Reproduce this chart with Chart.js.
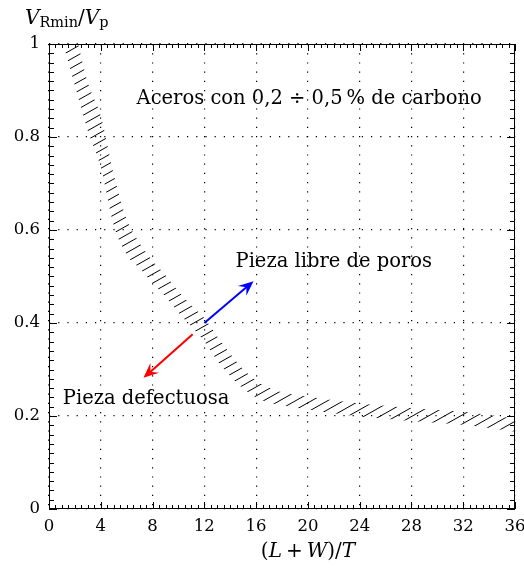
<!DOCTYPE html>
<html>
<head>
<meta charset="utf-8">
<script src="https://cdn.jsdelivr.net/npm/chart.js@4.4.0/dist/chart.umd.min.js"></script>
<style>
  html, body { margin: 0; padding: 0; background: #fff; }
</style>
</head>
<body>
<canvas id="chart" width="524" height="572"></canvas>
<script>
// ticks
var xTicks = [0, 4, 8, 12, 16, 20, 24, 28, 32, 36];
var yTicks = [0, 0.2, 0.4, 0.6, 0.8, 1];
var yTickLabels = ["0", "0.2", "0.4", "0.6", "0.8", "1"];

// hatched band (lower / upper edge)
var bandX     = [1.2, 2, 3, 4, 5, 6, 7, 8, 9, 10, 11, 12, 13, 14, 15, 16, 17, 18, 20, 22, 24, 26, 28, 30, 32, 34, 36];
var bandLower = [0.99, 0.91, 0.813, 0.735, 0.61, 0.547, 0.518, 0.486, 0.457, 0.422, 0.392, 0.36, 0.319, 0.286, 0.259, 0.24, 0.229, 0.223, 0.214, 0.206, 0.199, 0.194, 0.189, 0.185, 0.181, 0.174, 0.166];
var bandUpper = [1.12, 1.03, 0.917, 0.845, 0.72, 0.623, 0.572, 0.534, 0.503, 0.468, 0.438, 0.41, 0.371, 0.334, 0.301, 0.276, 0.261, 0.251, 0.242, 0.234, 0.227, 0.222, 0.217, 0.213, 0.209, 0.202, 0.194];

// arrows: [start, end]
var arrowLibre = [[12, 0.4], [15.8, 0.49]];
var arrowDefecto = [[11.1, 0.376], [7.3, 0.282]];

var notes = [
  { text: "Aceros con 0,2 \u00f7 0,5\u2009% de carbono", x: 20.1, y: 0.885 },
  { text: "Pieza libre de poros", x: 22.0, y: 0.535 },
  { text: "Pieza defectuosa", x: 7.5, y: 0.24 }
];

var FONT = "'DejaVu Serif', serif";

function hatch() {
  var c = document.createElement("canvas");
  c.width = 16; c.height = 9;
  var g = c.getContext("2d");
  g.strokeStyle = "#000";
  g.lineWidth = 1;
  g.beginPath();
  [-9, 0, 9].forEach(function (o) {
    g.moveTo(0, 9 + o);
    g.lineTo(16, o);
  });
  g.stroke();
  return g.createPattern(c, "repeat");
}

function pts(xs, ys) {
  return xs.map(function (x, i) { return { x: x, y: ys[i] }; });
}

function drawArrow(ctx, chart, a, color) {
  var sx = chart.scales.x, sy = chart.scales.y;
  var x0 = sx.getPixelForValue(a[0][0]), y0 = sy.getPixelForValue(a[0][1]);
  var x1 = sx.getPixelForValue(a[1][0]), y1 = sy.getPixelForValue(a[1][1]);
  var ang = Math.atan2(y1 - y0, x1 - x0);
  var len = 15, w = 6.5;
  ctx.save();
  ctx.strokeStyle = color;
  ctx.fillStyle = color;
  ctx.lineWidth = 2;
  ctx.beginPath();
  ctx.moveTo(x0, y0);
  ctx.lineTo(x1 - Math.cos(ang) * 9, y1 - Math.sin(ang) * 9);
  ctx.stroke();
  ctx.translate(x1, y1);
  ctx.rotate(ang);
  ctx.beginPath();
  ctx.moveTo(0, 0);
  ctx.lineTo(-len, -w);
  ctx.lineTo(-len * 0.62, 0);
  ctx.lineTo(-len, w);
  ctx.closePath();
  ctx.fill();
  ctx.restore();
}

function drawRuns(ctx, runs, x, y, align) {
  var total = 0;
  runs.forEach(function (r) {
    ctx.font = r.f;
    total += ctx.measureText(r.t).width;
  });
  var cx = align === "center" ? x - total / 2 : x;
  ctx.textAlign = "left";
  runs.forEach(function (r) {
    ctx.font = r.f;
    ctx.fillText(r.t, cx, y + (r.dy || 0));
    cx += ctx.measureText(r.t).width;
  });
}

var decor = {
  id: "decor",
  afterDraw: function (chart) {
    var ctx = chart.ctx;
    var a = chart.chartArea;
    var sx = chart.scales.x, sy = chart.scales.y;
    ctx.save();
    ctx.strokeStyle = "#000";
    ctx.lineWidth = 1;
    // frame
    ctx.strokeRect(a.left + 0.5, a.top + 0.5, a.right - a.left - 1, a.bottom - a.top - 1);
    // inward ticks on all four sides
    ctx.beginPath();
    var v, p, L;
    for (v = 0; v <= 36.001; v += 0.5) {
      p = Math.round(sx.getPixelForValue(v)) + 0.5;
      L = Math.abs(v % 4) < 0.01 ? 7 : 4;
      ctx.moveTo(p, a.bottom); ctx.lineTo(p, a.bottom - L);
      ctx.moveTo(p, a.top); ctx.lineTo(p, a.top + L);
    }
    for (v = 0; v <= 1.0001; v += 0.02) {
      p = Math.round(sy.getPixelForValue(v)) + 0.5;
      L = Math.abs(Math.round(v * 50) % 10) === 0 ? 8 : 5;
      ctx.moveTo(a.left, p); ctx.lineTo(a.left + L, p);
      ctx.moveTo(a.right, p); ctx.lineTo(a.right - L, p);
    }
    ctx.stroke();

    drawArrow(ctx, chart, arrowLibre, "#0000ff");
    drawArrow(ctx, chart, arrowDefecto, "#ff0000");

    ctx.fillStyle = "#000";
    ctx.textBaseline = "alphabetic";
    notes.forEach(function (n) {
      ctx.font = "19.5px " + FONT;
      ctx.textAlign = "center";
      ctx.fillText(n.text, sx.getPixelForValue(n.x), sy.getPixelForValue(n.y) + 7);
    });

    // axis titles
    drawRuns(ctx, [
      { t: "V", f: "italic 20px " + FONT },
      { t: "Rmin", f: "14.5px " + FONT, dy: 3 },
      { t: "/", f: "20px " + FONT },
      { t: "V", f: "italic 20px " + FONT },
      { t: "p", f: "14.5px " + FONT, dy: 3 }
    ], 25, 24, "left");
    drawRuns(ctx, [
      { t: "(", f: "20px " + FONT },
      { t: "L", f: "italic 20px " + FONT },
      { t: "\u2009+\u2009", f: "20px " + FONT },
      { t: "W", f: "italic 20px " + FONT },
      { t: ")/", f: "20px " + FONT },
      { t: "T", f: "italic 20px " + FONT }
    ], 308, 557, "center");
    ctx.restore();
  }
};

new Chart(document.getElementById("chart").getContext("2d"), {
  type: "line",
  data: {
    datasets: [
      {
        data: pts(bandX, bandLower),
        borderColor: "transparent",
        borderWidth: 0,
        pointRadius: 0,
        fill: false,
        cubicInterpolationMode: "monotone"
      },
      {
        data: pts(bandX, bandUpper),
        borderColor: "transparent",
        borderWidth: 0,
        pointRadius: 0,
        fill: "-1",
        backgroundColor: hatch(),
        cubicInterpolationMode: "monotone"
      }
    ]
  },
  options: {
    responsive: false,
    animation: false,
    devicePixelRatio: 1,
    layout: { padding: { top: 44, right: 9, left: 0, bottom: 0 } },
    plugins: { legend: { display: false }, tooltip: { enabled: false } },
    scales: {
      x: {
        type: "linear",
        min: 0,
        max: 36,
        afterBuildTicks: function (s) { s.ticks = xTicks.map(function (v) { return { value: v }; }); },
        afterFit: function (s) { s.height = 63; s.paddingRight = 0; s.paddingLeft = 0; },
        ticks: { color: "#000", font: { family: FONT, size: 16.5 }, padding: 8, maxRotation: 0 },
        grid: { color: "#000", lineWidth: 1.2, drawTicks: false },
        border: { display: false, dash: [1.2, 8] }
      },
      y: {
        type: "linear",
        min: 0,
        max: 1,
        afterBuildTicks: function (s) { s.ticks = yTicks.map(function (v) { return { value: v }; }); },
        afterFit: function (s) { s.width = 49; s.paddingTop = 0; s.paddingBottom = 0; },
        ticks: {
          color: "#000",
          font: { family: FONT, size: 16.5 },
          padding: 9,
          callback: function (v) { return yTickLabels[yTicks.indexOf(v)]; }
        },
        grid: { color: "#000", lineWidth: 1.2, drawTicks: false },
        border: { display: false, dash: [1.2, 8] }
      }
    }
  },
  plugins: [decor]
});
</script>
</body>
</html>
